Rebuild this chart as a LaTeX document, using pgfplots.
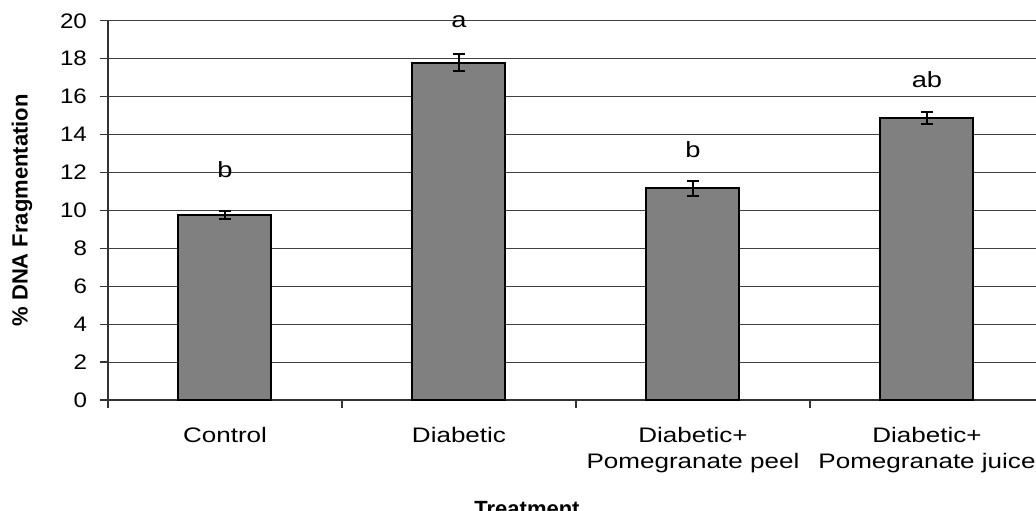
\documentclass[border=0pt]{standalone}
\usepackage{fontspec}
\setmainfont{Liberation Sans}[FakeStretch=1.15]
\newfontfamily\widefont{Liberation Sans}[FakeStretch=1.24]
\newfontfamily\plainfont{Liberation Sans}
\usepackage{pgfplots}
\pgfplotsset{compat=1.18}
\definecolor{barfill}{RGB}{128,128,128}
\begin{document}
\begin{tikzpicture}
\begin{axis}[
  scale only axis,
  width=464pt, height=189.6pt,
  xmin=-0.5, xmax=3.466,
  ymin=0, ymax=20,
  ytick={0,2,...,20},
  /pgf/number format/assume math mode=true,
  axis lines*=left,
  axis line style={-, black!80, line width=0.6pt},
  every outer x axis line/.append style={-},
  every outer y axis line/.append style={-},
  tick align=outside,
  major tick length=4pt,
  tick style={black!80, line width=0.6pt},
  ymajorgrids,
  grid style={black!75, line width=0.5pt},
  xtick={-0.5,0.5,1.5,2.5},
  xticklabels={},
  extra x ticks={0,1,2,3},
  extra x tick labels={Control, Diabetic, {Diabetic+\\Pomegranate peel}, {Diabetic+\\Pomegranate juice}},
  extra x tick style={major tick length=0pt, grid=none,
    xticklabel style={align=center, anchor=north, yshift=-10pt,
      font=\widefont\fontsize{10.5}{13.2}\selectfont}},
  yticklabel style={font=\fontsize{10.5}{13}\selectfont, xshift=-3pt},
  ylabel={\% DNA Fragmentation},
  ylabel style={at={(axis description cs:-0.0927,0.5)}, anchor=center,
    font=\plainfont\bfseries\fontsize{11}{13}\selectfont},
  xlabel={Treatment},
  xlabel style={at={(axis description cs:0.4515,0)}, anchor=north, yshift=-47pt,
    font=\plainfont\bfseries\fontsize{11}{13}\selectfont},
  clip=false,
]
\addplot[ybar, bar width=46.5pt, fill=barfill, draw=black, line width=1pt,
  error bars/.cd, y dir=both, y explicit,
  error bar style={black, line width=0.9pt},
  error mark options={black, rotate=90, mark size=3pt, line width=0.9pt}]
  coordinates {
    (0,9.76) +- (0,0.21)
    (1,17.8) +- (0,0.44)
    (2,11.17) +- (0,0.39)
    (3,14.87) +- (0,0.3)
  };
\addplot[draw=none, nodes near coords, point meta=explicit symbolic,
  nodes near coords style={anchor=center, black, font=\widefont\fontsize{11}{13}\selectfont}]
  coordinates {
    (0,12.13) [b]
    (1,19.94) [a]
    (2,13.19) [b]
    (3,16.88) [ab]
  };
\end{axis}
\pgfresetboundingbox
\useasboundingbox (-54pt,-55pt) rectangle (464pt,200pt);
\end{tikzpicture}
\end{document}
